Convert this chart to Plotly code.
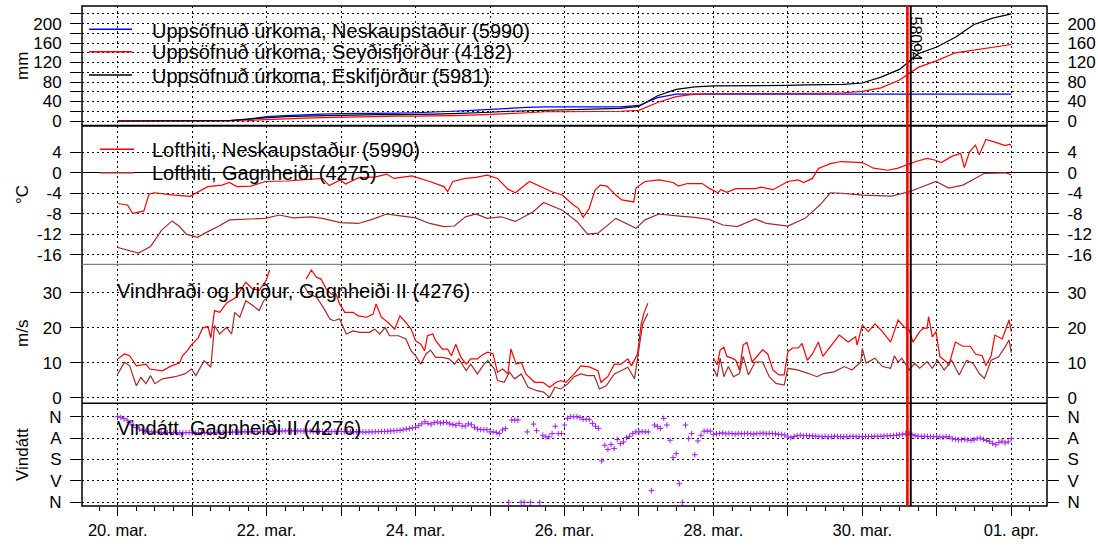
import pandas as pd
import plotly.graph_objects as go

# ---------------- data (days since 20. mar. 00:00) ----------------
BASE = pd.Timestamp("2023-03-20")

precip_days = [i * 0.25 for i in range(49)]
precip_neskaupstadur = [0, 0, 0, 0, 0, 0, 1, 4, 9, 11, 13, 14, 15, 15, 16, 16, 17, 18, 20, 22, 24, 27,
                        28, 29, 29, 29, 29, 29, 32, 48, 55, 55, 55, 55, 55, 55, 55, 55, 55, 55, 55, 55,
                        55, 55, 55, 55, 55, 55, 55]
precip_seydisfjordur = [0, 0, 0, 0, 0, 0, 0, 1, 3, 5, 6, 7, 8, 9, 9, 10, 10, 10, 11, 12, 13, 15, 17,
                        19, 19, 19, 19, 20, 22, 38, 50, 55, 56, 56, 56, 57, 57, 57, 57, 58, 61, 68, 84,
                        110, 124, 140, 146, 152, 157]
precip_eskifjordur = [0, 0, 0, 0, 0, 0, 1, 4, 7, 9, 10, 11, 12, 12, 13, 13, 13, 14, 15, 16, 18, 20, 21,
                      22, 23, 24, 25, 26, 30, 52, 65, 70, 72, 72, 73, 73, 73, 74, 74, 75, 78, 90, 106,
                      138, 152, 172, 198, 211, 220]

temp_neskaupstadur = [
    (0.00, -6.0), (0.13, -6.3), (0.20, -7.9), (0.35, -7.5), (0.42, -4.2), (0.49, -3.9), (0.73, -4.3),
    (0.97, -4.6), (1.21, -2.7), (1.40, -2.4), (1.50, -1.9), (1.60, -2.7), (1.79, -2.6), (1.98, -1.7),
    (2.27, -1.6), (2.51, -1.4), (2.75, -1.1), (2.84, -2.5), (2.99, -1.4), (3.06, -2.2), (3.23, -1.0),
    (3.47, -0.8), (3.61, -0.25), (3.71, -1.1), (3.95, -0.6), (4.19, -1.7), (4.38, -2.7), (4.43, -3.7),
    (4.50, -1.7), (4.67, -1.1), (4.81, -0.9), (4.96, -0.45), (5.10, -1.1), (5.24, -3.2), (5.34, -3.9),
    (5.53, -1.7), (5.69, -2.7), (5.83, -3.7), (5.97, -4.35), (6.12, -6.3), (6.19, -7.0), (6.25, -8.7),
    (6.33, -7.0), (6.41, -3.4), (6.48, -2.4), (6.57, -2.6), (6.69, -4.35), (6.77, -5.3), (6.93, -5.7),
    (6.96, -3.0), (7.08, -1.7), (7.27, -1.4), (7.46, -1.9), (7.53, -2.6), (7.65, -2.1), (7.85, -2.1),
    (7.94, -3.0), (8.06, -3.9), (8.10, -3.3), (8.18, -3.8), (8.30, -3.1), (8.56, -3.1), (8.64, -2.8),
    (8.80, -3.3), (9.00, -1.7), (9.14, -1.4), (9.21, -1.9), (9.33, -1.1), (9.41, 0.85), (9.57, 1.8),
    (9.72, 2.2), (10.00, 2.0), (10.15, 0.9), (10.34, 0.5), (10.48, 0.9), (10.63, 1.8), (10.72, 2.2),
    (10.87, 2.8), (10.97, 2.5), (11.06, 2.0), (11.20, 3.2), (11.32, 3.8), (11.37, 1.0), (11.44, 4.1),
    (11.52, 5.4), (11.57, 3.5), (11.66, 6.5), (11.78, 6.0), (11.92, 5.3), (11.98, 5.6), (12.00, 5.3)]

temp_gagnheidi = [
    (0.00, -14.6), (0.28, -15.7), (0.44, -14.4), (0.59, -11.2), (0.73, -9.4), (0.83, -10.5),
    (0.92, -12.0), (1.07, -12.6), (1.21, -11.5), (1.36, -10.4), (1.50, -9.2), (1.79, -9.1),
    (1.98, -8.9), (2.17, -8.25), (2.36, -8.8), (2.60, -8.6), (2.75, -8.9), (2.99, -9.75),
    (3.23, -9.9), (3.42, -9.1), (3.61, -8.05), (3.80, -8.4), (4.00, -8.8), (4.19, -9.9),
    (4.38, -10.5), (4.52, -10.4), (4.67, -8.6), (4.81, -8.05), (4.96, -8.9), (5.15, -8.6),
    (5.34, -9.5), (5.58, -7.6), (5.72, -5.8), (5.97, -7.3), (6.17, -9.55), (6.31, -12.0),
    (6.45, -11.8), (6.69, -8.9), (6.84, -9.9), (6.96, -10.85), (7.08, -9.2), (7.27, -8.05),
    (7.51, -8.4), (7.75, -8.7), (7.94, -9.1), (8.13, -10.2), (8.32, -10.5), (8.56, -9.0),
    (8.71, -9.9), (9.00, -10.4), (9.23, -8.9), (9.43, -6.3), (9.57, -3.9), (9.72, -4.0),
    (10.00, -4.35), (10.39, -4.55), (10.63, -3.7), (10.82, -2.7), (10.99, -1.7), (11.16, -3.0),
    (11.35, -2.4), (11.49, -1.3), (11.64, -0.1), (11.92, 0.0), (12.00, -0.4)]

wind_gust = [
    (0.00, 11.1), (0.09, 12.5), (0.16, 12.0), (0.25, 9.1), (0.38, 9.6), (0.43, 8.2), (0.60, 7.7),
    (0.72, 9.1), (0.83, 9.9), (0.87, 12.0), (0.94, 13.6), (0.99, 15.1), (1.08, 17.1), (1.14, 19.9),
    (1.21, 20.4), (1.25, 17.1), (1.30, 24.9), (1.37, 24.4), (1.46, 27.0), (1.59, 28.7), (1.72, 33.0),
    (1.81, 31.1), (1.90, 30.7), (1.99, 33.4), (2.04, 36.5), (2.30, None), (2.53, 33.9), (2.60, 36.5),
    (2.67, 34.4), (2.73, 33.9), (2.80, 31.1), (2.87, 29.6), (2.93, 29.6), (2.98, 26.8), (3.05, 24.4),
    (3.16, 24.4), (3.23, 23.4), (3.34, 23.0), (3.43, 23.9), (3.47, 26.8), (3.54, 23.0), (3.63, 21.5),
    (3.72, 19.6), (3.79, 23.4), (3.87, 21.5), (3.94, 19.6), (4.00, 16.3), (4.07, 15.3), (4.12, 13.4),
    (4.16, 17.7), (4.23, 18.2), (4.27, 16.3), (4.36, 13.9), (4.43, 13.9), (4.48, 12.0), (4.54, 15.3),
    (4.61, 11.5), (4.68, 9.6), (4.74, 11.1), (4.83, 11.1), (4.90, 12.3), (4.97, 13.0), (5.04, 12.5),
    (5.10, 7.3), (5.17, 8.2), (5.24, 6.8), (5.28, 13.9), (5.35, 9.6), (5.42, 10.1), (5.48, 6.8),
    (5.60, 4.4), (5.71, 4.4), (5.80, 3.0), (5.89, 4.4), (5.95, 4.9), (6.02, 4.4), (6.13, 6.8),
    (6.22, 9.1), (6.33, 8.8), (6.45, 7.7), (6.49, 4.4), (6.58, 6.0), (6.67, 9.6), (6.76, 9.6),
    (6.85, 11.1), (6.90, 9.1), (6.98, 12.5), (7.03, 21.1), (7.07, 24.4), (7.12, 27.0), (7.50, None),
    (8.00, 11.3), (8.05, 9.4), (8.09, 13.6), (8.14, 14.4), (8.18, 11.8), (8.25, 11.3), (8.30, 10.7),
    (8.35, 7.9), (8.40, 15.1), (8.45, 15.8), (8.52, 10.2), (8.59, 11.8), (8.66, 13.7), (8.73, 12.5),
    (8.80, 7.9), (8.88, 6.5), (8.95, 6.5), (9.00, 13.1), (9.06, 14.2), (9.14, 14.2), (9.19, 15.5),
    (9.26, 10.7), (9.33, 12.5), (9.41, 15.9), (9.47, 11.8), (9.57, 14.6), (9.69, 17.9), (9.81, 15.9),
    (9.91, 17.4), (9.93, 15.0), (10.00, 20.8), (10.08, 18.9), (10.17, 21.1), (10.27, 18.9),
    (10.38, 15.9), (10.48, 22.2), (10.56, 20.3), (10.63, 19.3), (10.68, 15.9), (10.77, 18.9),
    (10.82, 19.9), (10.87, 19.9), (10.89, 23.1), (10.94, 17.4), (10.99, 18.9), (11.04, 11.8),
    (11.13, 10.2), (11.16, 9.2), (11.25, 15.9), (11.35, 14.7), (11.45, 14.7), (11.52, 12.5),
    (11.61, 12.0), (11.66, 9.2), (11.73, 12.0), (11.78, 17.9), (11.88, 16.8), (11.97, 22.2),
    (12.00, 18.9)]

wind_mean = [
    (0.00, 6.8), (0.09, 10.1), (0.16, 9.1), (0.25, 3.4), (0.31, 5.8), (0.38, 4.0), (0.44, 6.3),
    (0.50, 4.0), (0.60, 5.4), (0.77, 6.0), (0.90, 6.8), (0.99, 8.2), (1.05, 6.3), (1.16, 10.6),
    (1.25, 8.7), (1.30, 20.6), (1.37, 18.2), (1.46, 20.1), (1.53, 18.2), (1.57, 24.4), (1.64, 23.0),
    (1.72, 27.7), (1.81, 26.4), (1.90, 24.9), (1.96, 27.7), (2.04, 29.1), (2.30, None), (2.50, 32.0),
    (2.57, 29.6), (2.67, 28.7), (2.76, 25.8), (2.85, 22.5), (2.90, 22.0), (2.98, 22.5), (3.07, 18.2),
    (3.16, 19.1), (3.25, 18.7), (3.38, 18.7), (3.45, 19.6), (3.52, 18.2), (3.59, 20.1), (3.65, 17.7),
    (3.77, 17.7), (3.87, 16.8), (3.94, 13.4), (4.00, 12.0), (4.07, 9.6), (4.14, 12.5), (4.20, 13.6),
    (4.27, 11.5), (4.36, 11.5), (4.45, 11.1), (4.52, 9.6), (4.58, 11.1), (4.68, 7.7), (4.74, 9.6),
    (4.83, 6.8), (4.92, 9.6), (4.97, 10.6), (5.06, 8.2), (5.10, 4.9), (5.19, 4.4), (5.26, 7.3),
    (5.33, 5.4), (5.42, 6.8), (5.51, 3.0), (5.63, 2.0), (5.72, 1.6), (5.80, 0.1), (5.87, 3.0),
    (5.95, 2.5), (6.04, 3.9), (6.13, 6.0), (6.22, 6.8), (6.31, 6.3), (6.40, 6.3), (6.47, 2.5),
    (6.56, 3.4), (6.67, 6.8), (6.76, 7.7), (6.85, 8.7), (6.94, 5.4), (7.00, 14.4), (7.05, 21.1),
    (7.12, 24.1), (7.50, None), (8.00, 8.4), (8.05, 6.0), (8.09, 11.3), (8.14, 6.0), (8.20, 8.9),
    (8.27, 6.0), (8.35, 6.9), (8.40, 11.8), (8.47, 6.5), (8.56, 10.2), (8.66, 10.2), (8.75, 6.0),
    (8.84, 4.1), (8.95, 3.6), (9.00, 8.4), (9.14, 7.9), (9.28, 6.9), (9.39, 6.0), (9.48, 6.9),
    (9.62, 7.4), (9.76, 8.9), (9.86, 7.9), (9.98, 10.2), (10.00, 14.1), (10.05, 9.9), (10.17, 11.3),
    (10.27, 8.9), (10.38, 8.4), (10.43, 12.0), (10.48, 10.2), (10.53, 11.3), (10.63, 7.9),
    (10.70, 9.8), (10.77, 8.4), (10.87, 10.3), (10.94, 8.4), (11.01, 10.7), (11.10, 7.9),
    (11.20, 10.7), (11.30, 6.5), (11.40, 10.7), (11.49, 9.8), (11.57, 6.9), (11.64, 5.5),
    (11.73, 10.7), (11.83, 11.7), (11.92, 14.6), (11.97, 16.5), (12.00, 12.9)]

# hourly wind direction (degrees), one list per day
dir_day0 = [0, 3, 8, 15, 25, 35, 45, 52, 58, 61, 63, 64, 65, 65, 66, 66, 67, 67, 66, 67, 67, 68, 67, 67]
dir_day1 = [67, 68, 67, 68, 68, 67, 68, 67, 66, 67, 66, 65, 66, 65, 64, 65, 64, 63, 64, 63, 62, 63, 62, 62]
dir_day2 = [61, 62, 61, 60, 61, 60, 60, 59, 60, 59, 60, 60, 61, 60, 61, 62, 61, 62, 62, 63, 62, 63, 62, 62]
dir_day3 = [62, 63, 63, 64, 64, 63, 64, 64, 65, 64, 64, 63, 63, 62, 62, 61, 60, 59, 58, 57, 55, 52, 50, 47]
dir_day4 = [45, 38, 30, 21, 28, 31, 25, 22, 27, 25, 24, 30, 33, 36, 28, 39, 39, 30, 34, 45, 52, 54, 55, 54]
dir_day5 = [64, 64, 66, 71, 56, 50, 360, 14, 14, 14, 360, 360, 64, 360, 31, 59, 360, 78, 85, 85, 71, 40, 71, 71]
dir_day6 = [35, 7, 0, 0, 0, 4, 11, 11, 11, 28, 40, 49, 186, 120, 138, 117, 134, 96, 113, 106, 88, 82, 71, 64]
dir_day7 = [64, 63, 64, 64, 311, 35, 42, 49, 7, 35, 99, 172, 155, 282, 360, 35, 92, 71, 160, 102, 78, 61, 60, 61]
dir_day8 = [75, 72, 70, 68, 72, 70, 71, 73, 70, 72, 71, 70, 72, 73, 71, 70, 69, 72, 70, 71, 72, 74, 75, 77]
dir_day9 = [85, 88, 83, 80, 78, 80, 79, 81, 80, 82, 83, 84, 83, 85, 84, 82, 83, 84, 85, 84, 83, 82, 84, 83]
dir_day10 = [84, 83, 84, 83, 82, 83, 82, 81, 80, 80, 79, 78, 76, 74, 72, 70, 75, 80, 82, 83, 82, 83, 84, 83]
dir_day11 = [84, 85, 86, 84, 85, 93, 95, 97, 96, 95, 98, 100, 97, 92, 90, 95, 100, 104, 112, 118, 108, 103, 110, 106]
dir_day12 = [92]

event_red_day = 10.605
event_black_day = 10.65
event_label = "58094"

x_labels = ["20. mar.", "", "22. mar.", "", "24. mar.", "", "26. mar.", "", "28. mar.", "",
            "30. mar.", "", "01. apr."]

precip_ticks = list(range(0, 221, 20))
temp_ticks = [-16, -12, -8, -4, 0, 4]
wind_ticks = [0, 10, 20, 30]
dir_ticks = [0, 90, 180, 270, 360]
dir_labels = ["N", "A", "S", "V", "N"]

# ---------------- helpers ----------------
def to_time(days):
    return [BASE + pd.Timedelta(days=d) for d in days]

def split(pairs):
    return to_time([p[0] for p in pairs]), [p[1] for p in pairs]

# ---------------- layout geometry (pixels) ----------------
W, H = 1098, 548
L, R, T, B = 82, 51, 6, 42
PW, PH = W - L - R, H - T - B
def xp(px):
    return (px - L) / PW
def yp(py):
    return (H - B - py) / PH

b12, b23, b34 = yp(125.7), yp(264.4), yp(403.3)

FONT = "Liberation Sans, Arial, sans-serif"
RED = "#FF0000"
BROWN = "#A52A2A"
BLUE = "#0000FF"
PURPLE = "#A020F0"

fig = go.Figure()

# panel 1: precipitation
for vals, col in [(precip_neskaupstadur, BLUE), (precip_seydisfjordur, RED), (precip_eskifjordur, "black")]:
    fig.add_trace(go.Scatter(x=to_time(precip_days), y=vals, mode="lines",
                             line=dict(color=col, width=1.2), xaxis="x", yaxis="y",
                             showlegend=False, hoverinfo="skip"))
# panel 2: temperature
for pairs, col in [(temp_neskaupstadur, RED), (temp_gagnheidi, BROWN)]:
    tx, ty = split(pairs)
    fig.add_trace(go.Scatter(x=tx, y=ty, mode="lines", line=dict(color=col, width=1.2),
                             xaxis="x2", yaxis="y2", showlegend=False, hoverinfo="skip"))
# panel 3: wind
for pairs, col in [(wind_gust, RED), (wind_mean, BROWN)]:
    tx, ty = split(pairs)
    fig.add_trace(go.Scatter(x=tx, y=ty, mode="lines", line=dict(color=col, width=1.2),
                             xaxis="x3", yaxis="y3", showlegend=False, hoverinfo="skip",
                             connectgaps=False))
# panel 4: direction
dir_all = (dir_day0 + dir_day1 + dir_day2 + dir_day3 + dir_day4 + dir_day5 + dir_day6 +
           dir_day7 + dir_day8 + dir_day9 + dir_day10 + dir_day11 + dir_day12)
dir_days = [h / 24 for h in range(len(dir_all))]
fig.add_trace(go.Scatter(x=to_time(dir_days), y=dir_all, mode="markers",
                         marker=dict(symbol="cross-thin", size=4, color=PURPLE,
                                     line=dict(width=1, color=PURPLE)),
                         xaxis="x4", yaxis="y4", showlegend=False, hoverinfo="skip"))

# dummy traces for the right-hand axes
for i, ya in enumerate(["y5", "y6", "y7", "y8"]):
    fig.add_trace(go.Scatter(x=[BASE], y=[0], mode="markers", marker=dict(opacity=0),
                             xaxis=["x", "x2", "x3", "x4"][i], yaxis=ya,
                             showlegend=False, hoverinfo="skip"))

xrange = [BASE - pd.Timedelta(days=0.48), BASE + pd.Timedelta(days=12.48)]
tickvals_x = to_time(range(13))
grid = dict(showgrid=True, gridcolor="black", gridwidth=1, griddash="2px,3px")

def xaxis(anchor, labels):
    d = dict(domain=[0, 1], anchor=anchor, range=xrange, type="date",
             tickmode="array", tickvals=tickvals_x,
             ticktext=x_labels if labels else [""] * 13,
             showline=False, zeroline=False, automargin=False, **grid,
             tickfont=dict(family=FONT, size=16.5, color="black"))
    if labels:
        d.update(ticks="outside", ticklen=9, tickcolor="black", tickwidth=1,
                 minor=dict(ticks="outside", ticklen=4, tickcolor="black", tickwidth=1,
                            dtick=6 * 3600 * 1000, tick0=BASE.strftime("%Y-%m-%d"),
                            showgrid=False))
    else:
        d.update(ticks="", showticklabels=False, matches="x4")
    return d

tickfont = dict(family=FONT, size=17, color="black")

def yaxis(domain, rng, tv, tt, anchor, side="left", overlay=None, zero=False):
    d = dict(domain=domain, range=rng, tickmode="array", tickvals=tv, ticktext=tt,
             ticks="outside", ticklen=11, tickcolor="black", tickwidth=1, side=side,
             ticklabelstandoff=5,
             showline=False, tickfont=tickfont, anchor=anchor, fixedrange=True,
             automargin=False)
    if overlay:
        d.update(overlaying=overlay, showgrid=False, zeroline=False)
    else:
        d.update(**grid)
        d.update(zeroline=zero, zerolinecolor="black", zerolinewidth=1.2)
    return d

precip_text = [str(v) if v % 40 == 0 and v <= 200 else "" for v in precip_ticks]
temp_text = [str(v) for v in temp_ticks]
wind_text = [str(v) for v in wind_ticks]

rng1 = [-9.6, 236]
rng2 = [-17.9, 9.2]
rng3 = [-1.6, 38.1]
rng4 = [375.6, -56.4]

fig.update_layout(
    width=W, height=H, margin=dict(l=L, r=R, t=T, b=B, autoexpand=False),
    paper_bgcolor="white", plot_bgcolor="white", showlegend=False,
    font=dict(family=FONT, color="black"),
    xaxis=xaxis("y", False), xaxis2=xaxis("y2", False), xaxis3=xaxis("y3", False),
    xaxis4=xaxis("y4", True),
    yaxis=yaxis([b12, 1], rng1, precip_ticks, precip_text, "x"),
    yaxis2=yaxis([b23, b12], rng2, temp_ticks, temp_text, "x2", zero=True),
    yaxis3=yaxis([b34, b23], rng3, wind_ticks, wind_text, "x3"),
    yaxis4=yaxis([0, b34], rng4, dir_ticks, dir_labels, "x4"),
    yaxis5=yaxis([b12, 1], rng1, precip_ticks, precip_text, "x", side="right", overlay="y"),
    yaxis6=yaxis([b23, b12], rng2, temp_ticks, temp_text, "x2", side="right", overlay="y2"),
    yaxis7=yaxis([b34, b23], rng3, wind_ticks, wind_text, "x3", side="right", overlay="y3"),
    yaxis8=yaxis([0, b34], rng4, dir_ticks, dir_labels, "x4", side="right", overlay="y4"),
)

shapes = []
# frame and panel separators
shapes.append(dict(type="rect", xref="paper", yref="paper", x0=0, x1=1, y0=0, y1=1,
                   line=dict(color="black", width=1.5), layer="above"))
for yy, col, w in [(b12, "black", 2), (b23, "#808080", 1.2), (b34, "black", 1.6)]:
    shapes.append(dict(type="line", xref="paper", yref="paper", x0=0, x1=1, y0=yy, y1=yy,
                       line=dict(color=col, width=w), layer="above"))
# event lines
for dday, col, w in [(event_red_day, RED, 2.6), (event_black_day, "black", 2.0)]:
    t = BASE + pd.Timedelta(days=dday)
    shapes.append(dict(type="line", xref="x4", yref="paper", x0=t, x1=t, y0=0, y1=1,
                       line=dict(color=col, width=w), layer="above"))
# legend samples
for py, col in [(29.3, BLUE), (51.7, RED), (75.0, "black")]:
    shapes.append(dict(type="line", xref="paper", yref="paper", x0=xp(89), x1=xp(132),
                       y0=yp(py), y1=yp(py), line=dict(color=col, width=1.5), layer="above"))
for py, col in [(149.3, RED), (172.7, BROWN)]:
    shapes.append(dict(type="line", xref="paper", yref="paper", x0=xp(100), x1=xp(134),
                       y0=yp(py), y1=yp(py), line=dict(color=col, width=1.5), layer="above"))

annotations = []
legend_font = dict(family=FONT, size=20, color="black")
for txt, px, py in [
    ("Uppsöfnuð úrkoma, Neskaupstaður (5990)", 150, 30.5),
    ("Uppsöfnuð úrkoma, Seyðisfjörður (4182)", 150, 52.5),
    ("Uppsöfnuð úrkoma, Eskifjörður (5981)", 150, 75.5),
    ("Lofthiti, Neskaupstaður (5990)", 150, 150),
    ("Lofthiti, Gagnheiði (4275)", 150, 173),
    ("Vindhraði og hviður, Gagnheiði II (4276)", 115, 291),
    ("Vindátt, Gagnheiði II (4276)", 115, 428.3),
]:
    annotations.append(dict(text=txt, xref="paper", yref="paper", x=xp(px), y=yp(py),
                            xanchor="left", yanchor="middle", showarrow=False, font=legend_font))
title_font = dict(family=FONT, size=17, color="black")
for txt, py in [("mm", 66), ("°C", 195), ("m/s", 334), ("Vindátt", 455)]:
    annotations.append(dict(text=txt, xref="paper", yref="paper", x=xp(22), y=yp(py),
                            xanchor="center", yanchor="middle", textangle=-90,
                            showarrow=False, font=title_font))
annotations.append(dict(text=event_label, xref="paper", yref="paper", x=xp(914.5), y=yp(39),
                        xanchor="center", yanchor="middle", textangle=90, showarrow=False,
                        font=dict(family=FONT, size=16, color="black")))

fig.update_layout(shapes=shapes, annotations=annotations)
fig.write_html("out.html", config={"displayModeBar": False},
               post_script="document.body.style.margin='0px';")
